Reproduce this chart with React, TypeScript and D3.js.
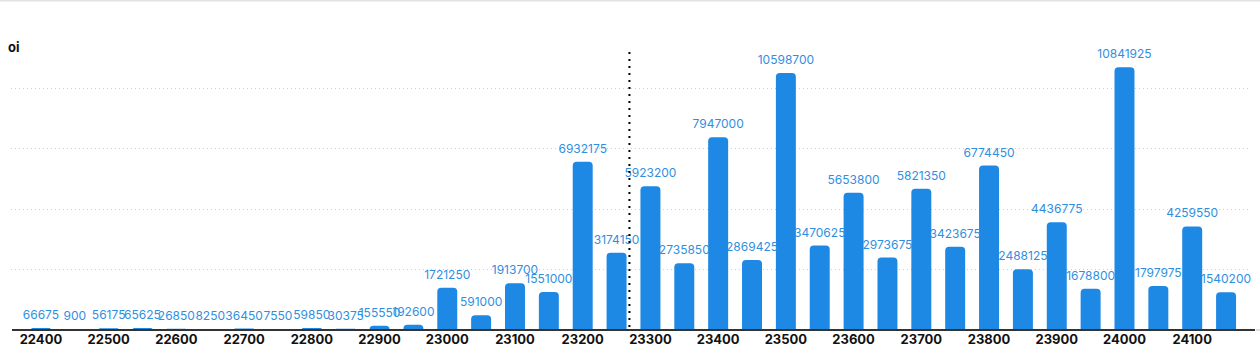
import React from 'react';
import * as d3 from 'd3';

// strikes and open interest
const strikes = [
  22400, 22450, 22500, 22550, 22600, 22650, 22700, 22750, 22800, 22850, 22900, 22950,
  23000, 23050, 23100, 23150, 23200, 23250, 23300, 23350, 23400, 23450, 23500, 23550,
  23600, 23650, 23700, 23750, 23800, 23850, 23900, 23950, 24000, 24050, 24100, 24150,
];
const oi = [
  66675, 900, 56175, 65625, 26850, 8250, 36450, 7550, 59850, 30375, 155550, 192600,
  1721250, 591000, 1913700, 1551000, 6932175, 3174150, 5923200, 2735850, 7947000, 2869425, 10598700, 3470625,
  5653800, 2973675, 5821350, 3423675, 6774450, 2488125, 4436775, 1678800, 10841925, 1797975, 4259550, 1540200,
];
const tickStrikes = [22400, 22500, 22600, 22700, 22800, 22900, 23000, 23100, 23200, 23300, 23400, 23500, 23600, 23700, 23800, 23900, 24000, 24100];
const gridValues = [2500000, 5000000, 7500000, 10000000];
const spot = 23269;
const yMax = 11550000;

const W = 1260;
const H = 353;
const left = 24;
const right = 1243;
const top = 50;
const base = 329.5;

const App = () => {
  const x = d3.scaleBand<number>().domain(strikes).range([left, right]).paddingInner(0.41).paddingOuter(0.205);
  const y = d3.scaleLinear().domain([0, yMax]).range([base, top]);
  const step = x.step();
  const cx = (s: number) => (x(s) as number) + x.bandwidth() / 2;
  const spotX = cx(strikes[0]) + ((spot - strikes[0]) / 50) * step;
  const bw = x.bandwidth();

  const barPath = (s: number, v: number) => {
    const x0 = x(s) as number;
    const y0 = y(v);
    const h = base - y0;
    const r = Math.min(4, h, bw / 2);
    return `M${x0},${base}V${y0 + r}Q${x0},${y0} ${x0 + r},${y0}H${x0 + bw - r}Q${x0 + bw},${y0} ${x0 + bw},${y0 + r}V${base}Z`;
  };

  return (
    <svg width={W} height={H} style={{ position: 'absolute', left: 0, top: 0, background: '#fff' }}
      fontFamily="Inter, 'Noto Sans', sans-serif">
      <line x1={0} x2={W} y1={0.5} y2={0.5} stroke="#e3e3e3" strokeWidth={2} />
      <text x={8} y={52} fontSize={13} fontWeight={700} fill="#111">oi</text>

      {gridValues.map((g) => (
        <line key={g} x1={11} x2={1250} y1={Math.round(y(g)) + 0.5} y2={Math.round(y(g)) + 0.5}
          stroke="#cfcfcf" strokeWidth={1} strokeDasharray="1 3" />
      ))}

      {strikes.map((s, i) => (
        <path key={s} d={barPath(s, oi[i])} fill="#1e88e5" />
      ))}

      {strikes.map((s, i) => (
        <text key={s} x={cx(s)} y={y(oi[i]) - 9} textAnchor="middle" fontSize={12} fill="#2f8fdf">
          {oi[i]}
        </text>
      ))}

      <line x1={12} x2={1255} y1={base + 0.5} y2={base + 0.5} stroke="#333" strokeWidth={2} />
      <line x1={1256} x2={1260} y1={base + 0.5} y2={base + 0.5} stroke="#bbb" strokeWidth={1} />

      <line x1={spotX} x2={spotX} y1={52} y2={base} stroke="#000" strokeWidth={2} strokeDasharray="2 5" />

      {tickStrikes.map((s) => (
        <text key={s} x={cx(s)} y={344} textAnchor="middle" fontSize={13} fontWeight={700} fill="#111">
          {s}
        </text>
      ))}
    </svg>
  );
};

export default App;
